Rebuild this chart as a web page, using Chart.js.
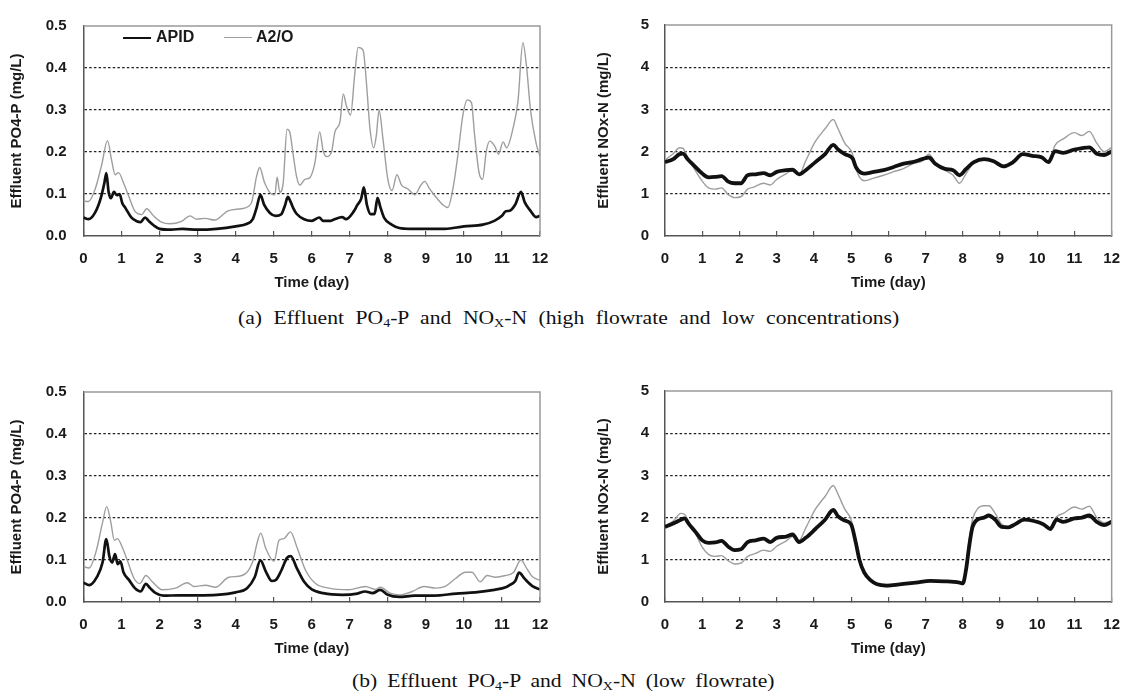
<!DOCTYPE html>
<html>
<head>
<meta charset="utf-8">
<script src="https://cdn.jsdelivr.net/npm/chart.js@4.4.1/dist/chart.umd.min.js"></script>
<style>
  html, body { margin: 0; padding: 0; background: #fff; }
  #page { position: relative; width: 1139px; height: 698px; overflow: hidden; }
  canvas { position: absolute; }
  .legend { position: absolute; top: 28px; font: bold 16px "Liberation Sans", Arial, sans-serif; color: #1a1a1a; }
  .legend span.ln { position: absolute; top: 9px; height: 0; }
  .legend span.tx { position: absolute; top: 0; white-space: nowrap; }
  .caption { position: absolute; font: 18px "Liberation Serif", "Times New Roman", serif; color: #111;
             text-align: justify; text-align-last: justify; white-space: nowrap; line-height: 20px;
             transform: scaleX(1.2); transform-origin: 0 0; }
  .caption sub { font-size: 0.65em; vertical-align: -0.25em; line-height: 0; }
</style>
</head>
<body>
<div id="page">
  <canvas id="po4High" width="570" height="300" style="left:0;top:0"></canvas>
  <canvas id="noxHigh" width="569" height="300" style="left:570px;top:0"></canvas>
  <canvas id="po4Low" width="570" height="300" style="left:0;top:366px"></canvas>
  <canvas id="noxLow" width="569" height="300" style="left:570px;top:366px"></canvas>

  <div class="legend">
    <span class="ln" style="left:123px;width:28px;border-top:2.6px solid #111"></span>
    <span class="tx" style="left:156px">APID</span>
    <span class="ln" style="left:224px;width:28px;border-top:1.5px solid #9e9e9e"></span>
    <span class="tx" style="left:256px">A2/O</span>
  </div>

  <!-- widths are the reference widths divided by the 1.2 horizontal stretch -->
  <div class="caption" style="left:238px;top:308px;width:551px">(a) Effluent PO<sub>4</sub>-P and NO<sub>X</sub>-N (high flowrate and low concentrations)</div>
  <div class="caption" style="left:352px;top:671px;width:352px">(b) Effluent PO<sub>4</sub>-P and NO<sub>X</sub>-N (low flowrate)</div>
</div>

<script>
// ---- (a) high flowrate: effluent PO4-P (mg/L) ----
const po4HighApidDay = [0, 0.13, 0.3, 0.45, 0.55, 0.6, 0.66, 0.72, 0.8, 0.88, 0.95, 1.02, 1.1, 1.25, 1.4, 1.5, 1.62, 1.72, 1.85, 2.0, 2.3, 2.6, 3.0, 3.5, 4.0, 4.3, 4.45, 4.55, 4.65, 4.75, 4.9, 5.05, 5.2, 5.3, 5.37, 5.45, 5.51, 5.6, 5.8, 6.0, 6.2, 6.3, 6.5, 6.6, 6.8, 6.9, 7.1, 7.2, 7.3, 7.37, 7.45, 7.55, 7.65, 7.73, 7.8, 7.9, 8.1, 8.3, 8.6, 9.0, 9.5, 10.0, 10.5, 10.8, 11.0, 11.1, 11.2, 11.35, 11.5, 11.6, 11.75, 11.9, 12];
const po4HighApid = [0.044, 0.04, 0.055, 0.089, 0.127, 0.15, 0.105, 0.09, 0.105, 0.097, 0.1, 0.078, 0.067, 0.045, 0.035, 0.033, 0.044, 0.035, 0.025, 0.017, 0.015, 0.017, 0.015, 0.017, 0.023, 0.029, 0.04, 0.067, 0.098, 0.074, 0.055, 0.048, 0.052, 0.074, 0.093, 0.08, 0.067, 0.053, 0.04, 0.036, 0.044, 0.036, 0.036, 0.04, 0.045, 0.04, 0.058, 0.074, 0.089, 0.116, 0.074, 0.052, 0.052, 0.091, 0.07, 0.044, 0.027, 0.019, 0.017, 0.017, 0.017, 0.023, 0.027, 0.036, 0.048, 0.059, 0.06, 0.075, 0.105, 0.08, 0.06, 0.045, 0.048];
const po4HighA2oDay = [0, 0.13, 0.3, 0.48, 0.63, 0.74, 0.83, 0.92, 1.05, 1.18, 1.35, 1.53, 1.66, 1.84, 2.05, 2.27, 2.58, 2.8, 2.97, 3.19, 3.45, 3.8, 4.15, 4.41, 4.55, 4.63, 4.76, 4.94, 5.03, 5.09, 5.16, 5.25, 5.35, 5.42, 5.51, 5.6, 5.69, 5.82, 5.95, 6.08, 6.21, 6.3, 6.39, 6.52, 6.61, 6.74, 6.83, 6.91, 7.02, 7.13, 7.22, 7.35, 7.44, 7.53, 7.63, 7.7, 7.77, 7.87, 8.0, 8.11, 8.24, 8.36, 8.53, 8.71, 8.86, 8.97, 9.1, 9.28, 9.45, 9.58, 9.71, 9.84, 9.97, 10.09, 10.2, 10.28, 10.4, 10.49, 10.59, 10.68, 10.81, 10.91, 11.03, 11.12, 11.3, 11.42, 11.55, 11.65, 11.75, 11.9, 12];
const po4HighA2o = [0.083, 0.082, 0.11, 0.17, 0.227, 0.18, 0.146, 0.151, 0.127, 0.097, 0.059, 0.051, 0.065, 0.048, 0.033, 0.029, 0.035, 0.048, 0.04, 0.042, 0.038, 0.06, 0.065, 0.078, 0.142, 0.163, 0.127, 0.1, 0.098, 0.14, 0.104, 0.127, 0.254, 0.248, 0.195, 0.142, 0.121, 0.135, 0.139, 0.173, 0.248, 0.203, 0.189, 0.2, 0.248, 0.271, 0.338, 0.31, 0.288, 0.385, 0.449, 0.442, 0.362, 0.256, 0.21, 0.241, 0.3, 0.233, 0.135, 0.108, 0.146, 0.121, 0.112, 0.098, 0.12, 0.13, 0.112, 0.091, 0.074, 0.068, 0.112, 0.192, 0.286, 0.324, 0.317, 0.241, 0.15, 0.135, 0.203, 0.226, 0.214, 0.195, 0.224, 0.21, 0.26, 0.32, 0.46, 0.4, 0.3, 0.22, 0.19];

// ---- (a) high flowrate: effluent NOx-N (mg/L) ----
const noxHighDay = [0, 0.22, 0.39, 0.48, 0.61, 0.78, 1.0, 1.17, 1.35, 1.52, 1.7, 1.87, 2.04, 2.22, 2.39, 2.65, 2.83, 3.0, 3.26, 3.43, 3.6, 3.78, 4.04, 4.3, 4.52, 4.65, 4.83, 5.04, 5.13, 5.35, 5.61, 5.87, 6.13, 6.39, 6.65, 6.91, 7.09, 7.26, 7.52, 7.74, 7.91, 8.09, 8.3, 8.57, 8.83, 9.09, 9.35, 9.61, 9.87, 10.13, 10.3, 10.48, 10.7, 11.0, 11.2, 11.4, 11.6, 11.8, 12];
const noxHighApid = [1.75, 1.82, 1.94, 1.95, 1.82, 1.67, 1.48, 1.39, 1.4, 1.42, 1.29, 1.25, 1.25, 1.44, 1.46, 1.49, 1.44, 1.52, 1.56, 1.57, 1.46, 1.56, 1.75, 1.94, 2.16, 2.05, 1.94, 1.84, 1.63, 1.48, 1.52, 1.56, 1.63, 1.71, 1.75, 1.82, 1.86, 1.71, 1.59, 1.56, 1.44, 1.59, 1.75, 1.82, 1.77, 1.65, 1.75, 1.94, 1.9, 1.86, 1.75, 2.01, 1.97, 2.05, 2.08, 2.1, 1.95, 1.92, 2.0];
const noxHighA2o = [1.8, 1.95, 2.09, 2.08, 1.85, 1.6, 1.3, 1.14, 1.11, 1.14, 0.98, 0.91, 0.93, 1.11, 1.16, 1.25, 1.21, 1.34, 1.48, 1.56, 1.46, 1.78, 2.24, 2.54, 2.76, 2.54, 2.2, 1.94, 1.59, 1.31, 1.37, 1.44, 1.52, 1.59, 1.71, 1.78, 1.94, 1.75, 1.56, 1.44, 1.25, 1.48, 1.75, 1.82, 1.77, 1.65, 1.75, 1.94, 1.9, 1.86, 1.75, 2.15, 2.3, 2.45, 2.38, 2.48, 2.2, 2.0, 2.1];

// ---- (b) low flowrate: effluent PO4-P (mg/L) ----
const po4LowApidDay = [0, 0.15, 0.35, 0.5, 0.6, 0.68, 0.75, 0.83, 0.9, 0.97, 1.05, 1.2, 1.35, 1.5, 1.64, 1.75, 1.9, 2.1, 2.5, 3.0, 3.5, 4.0, 4.3, 4.5, 4.65, 4.8, 4.95, 5.05, 5.2, 5.35, 5.45, 5.6, 5.8, 6.0, 6.3, 6.8, 7.2, 7.4, 7.6, 7.8, 8.0, 8.3, 8.7, 9.2, 9.8, 10.3, 10.8, 11.1, 11.2, 11.35, 11.45, 11.6, 11.8, 12];
const po4LowApid = [0.046, 0.04, 0.059, 0.094, 0.15, 0.109, 0.094, 0.114, 0.09, 0.097, 0.071, 0.052, 0.033, 0.025, 0.043, 0.033, 0.021, 0.015, 0.016, 0.016, 0.017, 0.023, 0.033, 0.059, 0.099, 0.071, 0.05, 0.052, 0.075, 0.105, 0.109, 0.082, 0.048, 0.03, 0.021, 0.017, 0.02, 0.025, 0.021, 0.029, 0.017, 0.012, 0.015, 0.015, 0.02, 0.023, 0.029, 0.035, 0.04, 0.05, 0.07, 0.055, 0.038, 0.03];
const po4LowA2oDay = [0, 0.15, 0.33, 0.5, 0.61, 0.72, 0.81, 0.89, 1.03, 1.16, 1.33, 1.48, 1.64, 1.81, 2.07, 2.42, 2.73, 2.9, 3.21, 3.47, 3.82, 4.17, 4.44, 4.57, 4.66, 4.79, 5.01, 5.14, 5.27, 5.44, 5.62, 5.84, 6.1, 6.45, 6.97, 7.41, 7.67, 7.8, 8.06, 8.33, 8.64, 8.95, 9.25, 9.51, 9.78, 10.04, 10.21, 10.43, 10.61, 10.83, 11.09, 11.3, 11.5, 11.65, 11.8, 12];
const po4LowA2o = [0.084, 0.081, 0.12, 0.189, 0.227, 0.189, 0.147, 0.151, 0.128, 0.097, 0.056, 0.044, 0.063, 0.048, 0.029, 0.033, 0.046, 0.037, 0.04, 0.035, 0.059, 0.063, 0.094, 0.143, 0.164, 0.128, 0.097, 0.147, 0.151, 0.167, 0.128, 0.075, 0.044, 0.033, 0.029, 0.037, 0.03, 0.035, 0.021, 0.017, 0.025, 0.037, 0.033, 0.037, 0.056, 0.071, 0.071, 0.048, 0.063, 0.059, 0.063, 0.07, 0.1, 0.08, 0.06, 0.052];

// ---- (b) low flowrate: effluent NOx-N (mg/L) ----
const noxLowDay = [0, 0.22, 0.43, 0.52, 0.65, 0.83, 1.0, 1.17, 1.35, 1.52, 1.7, 1.87, 2.04, 2.22, 2.43, 2.65, 2.83, 3.0, 3.26, 3.43, 3.6, 3.78, 4.04, 4.3, 4.52, 4.65, 4.83, 5.0, 5.13, 5.22, 5.35, 5.52, 5.7, 5.96, 6.3, 6.74, 7.13, 7.5, 7.91, 8.0, 8.09, 8.17, 8.26, 8.39, 8.57, 8.7, 8.87, 9.04, 9.22, 9.4, 9.65, 9.91, 10.17, 10.35, 10.52, 10.7, 11.0, 11.2, 11.4, 11.6, 11.8, 12];
const noxLowApid = [1.78, 1.86, 1.95, 1.98, 1.84, 1.65, 1.46, 1.4, 1.41, 1.45, 1.31, 1.23, 1.25, 1.42, 1.46, 1.5, 1.42, 1.52, 1.55, 1.6, 1.42, 1.52, 1.73, 1.95, 2.18, 2.03, 1.93, 1.84, 1.39, 1.01, 0.7, 0.52, 0.42, 0.39, 0.42, 0.46, 0.5, 0.49, 0.46, 0.44, 0.78, 1.31, 1.77, 1.95, 2.0, 2.05, 1.95, 1.78, 1.77, 1.84, 1.95, 1.92, 1.84, 1.73, 1.95, 1.9, 1.98, 2.0, 2.05, 1.9, 1.82, 1.9];
const noxLowA2o = [1.8, 1.92, 2.1, 2.08, 1.88, 1.6, 1.3, 1.13, 1.08, 1.1, 0.98, 0.9, 0.92, 1.08, 1.15, 1.23, 1.2, 1.32, 1.45, 1.55, 1.46, 1.75, 2.2, 2.5, 2.76, 2.55, 2.2, 1.95, 1.45, 1.05, 0.72, 0.52, 0.4, 0.36, 0.4, 0.45, 0.49, 0.48, 0.44, 0.42, 0.8, 1.45, 1.95, 2.2, 2.28, 2.28, 2.1, 1.85, 1.78, 1.84, 1.95, 1.93, 1.86, 1.75, 2.02, 2.1, 2.25, 2.2, 2.27, 2.0, 1.88, 1.92];

const dayTicks = [0, 1, 2, 3, 4, 5, 6, 7, 8, 9, 10, 11, 12];

const FONT = "'Liberation Sans', Arial, sans-serif";
const INK = "#1a1a1a";

// top and right sides of the plot box (left and bottom come from the axes)
const framePlugin = {
  id: "frame",
  afterDatasetsDraw(chart) {
    const { ctx, chartArea: a } = chart;
    ctx.save();
    ctx.strokeStyle = "#9a9a9a";
    ctx.lineWidth = 1.5;
    ctx.beginPath();
    ctx.moveTo(a.left, a.top);
    ctx.lineTo(a.right, a.top);
    ctx.lineTo(a.right, a.bottom);
    ctx.stroke();
    ctx.restore();
  },
};

function pairs(days, vals) {
  return days.map((d, i) => ({ x: d, y: vals[i] }));
}

function makeChart(id, cfg) {
  const ctx = document.getElementById(id).getContext("2d");
  return new Chart(ctx, {
    type: "line",
    data: {
      datasets: [
        {
          label: "APID",
          data: pairs(cfg.apidDay, cfg.apid),
          borderColor: "#111",
          borderWidth: cfg.apidWidth,
          pointRadius: 0,
          cubicInterpolationMode: "monotone",
        },
        {
          label: "A2/O",
          data: pairs(cfg.a2oDay, cfg.a2o),
          borderColor: "#9e9e9e",
          borderWidth: 1.4,
          pointRadius: 0,
          cubicInterpolationMode: "monotone",
        },
      ],
    },
    options: {
      responsive: false,
      animation: false,
      devicePixelRatio: 1,
      layout: { padding: { top: 16, right: cfg.padRight, bottom: 0, left: 0 } },
      plugins: { legend: { display: false }, tooltip: { enabled: false } },
      scales: {
        x: {
          type: "linear",
          min: 0,
          max: 12,
          afterBuildTicks: (s) => { s.ticks = dayTicks.map((v) => ({ value: v })); },
          afterFit: (s) => { s.height = 64; },
          border: { display: true, color: "#555", width: 1.5 },
          grid: { drawOnChartArea: false, drawTicks: true, tickLength: -5, color: "#555", lineWidth: 1.2 },
          ticks: { padding: 19, color: INK, font: { family: FONT, size: 15, weight: "bold" } },
          title: {
            display: true,
            text: "Time (day)",
            color: INK,
            padding: { top: 0, bottom: 8 },
            font: { family: FONT, size: 15, weight: "bold" },
          },
        },
        y: {
          min: 0,
          max: cfg.yMax,
          afterBuildTicks: (s) => { s.ticks = cfg.yTicks.map((v) => ({ value: v })); },
          afterFit: (s) => { s.width = cfg.axisWidth; },
          border: { display: true, color: "#555", width: 1.5, dash: [2.5, 2.2] },
          grid: {
            drawTicks: false,
            lineWidth: 1.2,
            color: (c) => (c.tick && c.tick.value > 0 && c.tick.value < cfg.yMax ? "#222" : "rgba(0,0,0,0)"),
          },
          ticks: {
            padding: cfg.tickPad,
            color: INK,
            font: { family: FONT, size: 15, weight: "bold" },
            callback: cfg.fmt,
          },
          title: {
            display: true,
            text: cfg.yTitle,
            color: INK,
            padding: { top: cfg.titlePad, bottom: 0 },
            font: { family: FONT, size: 15, weight: "bold" },
          },
        },
      },
    },
    plugins: [framePlugin],
  });
}

const po4Ticks = [0, 0.1, 0.2, 0.3, 0.4, 0.5];
const noxTicks = [0, 1, 2, 3, 4, 5];
const leftGeom = { padRight: 30, axisWidth: 83.5, tickPad: 17, titlePad: 8 };
const rightGeom = { padRight: 14, axisWidth: 95, tickPad: 16, titlePad: 25 };

makeChart("po4High", Object.assign({
  apidDay: po4HighApidDay, apid: po4HighApid, a2oDay: po4HighA2oDay, a2o: po4HighA2o,
  apidWidth: 2.7, yMax: 0.5, yTicks: po4Ticks, fmt: (v) => v.toFixed(1),
  yTitle: "Effluent PO4-P (mg/L)",
}, leftGeom));

makeChart("noxHigh", Object.assign({
  apidDay: noxHighDay, apid: noxHighApid, a2oDay: noxHighDay, a2o: noxHighA2o,
  apidWidth: 3.8, yMax: 5, yTicks: noxTicks, fmt: (v) => String(v),
  yTitle: "Effluent NOx-N (mg/L)",
}, rightGeom));

makeChart("po4Low", Object.assign({
  apidDay: po4LowApidDay, apid: po4LowApid, a2oDay: po4LowA2oDay, a2o: po4LowA2o,
  apidWidth: 2.7, yMax: 0.5, yTicks: po4Ticks, fmt: (v) => v.toFixed(1),
  yTitle: "Effluent PO4-P (mg/L)",
}, leftGeom));

makeChart("noxLow", Object.assign({
  apidDay: noxLowDay, apid: noxLowApid, a2oDay: noxLowDay, a2o: noxLowA2o,
  apidWidth: 3.8, yMax: 5, yTicks: noxTicks, fmt: (v) => String(v),
  yTitle: "Effluent NOx-N (mg/L)",
}, rightGeom));
</script>
</body>
</html>
